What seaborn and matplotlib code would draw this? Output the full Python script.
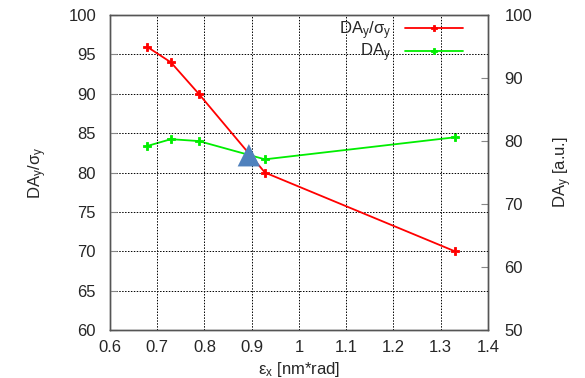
import matplotlib
matplotlib.use("Agg")
import matplotlib.pyplot as plt
import seaborn as sns
import pandas as pd

# data
emit_red = [0.678, 0.729, 0.788, 0.928, 1.330]
da_ratio = [96, 94, 90, 80, 70]
emit_green = [0.678, 0.729, 0.788, 0.928, 1.330]
da_y = [79.2, 80.3, 80.0, 77.1, 80.6]
tri_x = [0.894]
tri_y = [82.2]
xticks = [0.6, 0.7, 0.8, 0.9, 1.0, 1.1, 1.2, 1.3, 1.4]
yticks_left = [60, 65, 70, 75, 80, 85, 90, 95, 100]
yticks_right = [50, 60, 70, 80, 90, 100]

sns.set_style("white")
plt.rcParams['font.family'] = ['Liberation Sans', 'DejaVu Sans']
plt.rcParams['mathtext.fontset'] = 'custom'
plt.rcParams['mathtext.rm'] = 'Liberation Sans'
plt.rcParams['mathtext.it'] = 'Liberation Sans'

fig = plt.figure(figsize=(5.85, 3.78), dpi=100)
ax = fig.add_axes([0.188, 0.127, 0.646, 0.833])
ax2 = ax.twinx()
ax.set_zorder(ax2.get_zorder() + 1)
ax.patch.set_visible(False)

df_r = pd.DataFrame({"x": emit_red, "y": da_ratio})
df_g = pd.DataFrame({"x": emit_green, "y": da_y})

sns.lineplot(data=df_g, x="x", y="y", ax=ax2, color="#00ee00", lw=1.3,
             marker="P", markersize=6, markeredgewidth=0.6, markeredgecolor="#00ee00",
             label="DA$_y$", legend=False)
sns.lineplot(data=df_r, x="x", y="y", ax=ax, color="#ff0000", lw=1.3,
             marker="P", markersize=6, markeredgewidth=0.6, markeredgecolor="#ff0000",
             label="DA$_y$/σ$_y$", legend=False)
sns.scatterplot(x=tri_x, y=tri_y, ax=ax, marker="^", s=260, color="#4f81bd",
                edgecolor="none", zorder=5)

ax.set_xlim(0.6, 1.4)
ax.set_ylim(60, 100)
ax2.set_ylim(50, 100)
ax.set_xticks(xticks)
ax.set_xticklabels([f"{v:.1f}" if v != 1.0 else "1" for v in xticks])
ax.set_yticks(yticks_left)
ax2.set_yticks(yticks_right)
ax.grid(True, color="black", linestyle=(0, (1.5, 1.5)), lw=0.7)
ax2.grid(False)

for a in (ax, ax2):
    a.tick_params(direction="in", labelsize=12, length=5, color="#888888")
    for s in a.spines.values():
        s.set_color("#555555")
        s.set_linewidth(1.0)
ax.tick_params(axis="x", pad=7)
ax.tick_params(axis="y", pad=10)
ax2.tick_params(axis="y", pad=12)

ax.set_xlabel("ε$_x$ [nm*rad]", fontsize=12, labelpad=4)
ax.set_ylabel("DA$_y$/σ$_y$", fontsize=12, labelpad=14)
ax2.set_ylabel("DA$_y$ [a.u.]", fontsize=12, labelpad=14)

h1, l1 = ax.get_legend_handles_labels()
h2, l2 = ax2.get_legend_handles_labels()
handles = [h for h, l in zip(h1, l1) if l.startswith("DA")] + h2
labels = [l for l in l1 if l.startswith("DA")] + l2
leg = ax.legend(handles, labels, loc="upper right", bbox_to_anchor=(0.965, 1.025),
                frameon=False, markerfirst=False, fontsize=12, handlelength=3.5,
                labelspacing=0.0, handletextpad=0.8, borderpad=0.2)
for lh in leg.legend_handles:
    lh.set_markersize(4)

fig.savefig("out.png", dpi=100)
